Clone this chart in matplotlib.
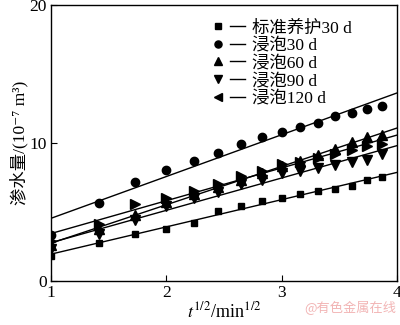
import numpy as np
import matplotlib
matplotlib.use("Agg")
import matplotlib.pyplot as plt
from matplotlib.lines import Line2D
from matplotlib.legend_handler import HandlerTuple

plt.rcParams['font.family'] = ['Liberation Serif', 'DejaVu Serif', 'Noto Sans CJK SC']
plt.rcParams['mathtext.fontset'] = 'stix'

# time t = 1..15 min, plotted as sqrt(t)
t_min = [1, 2, 3, 4, 5, 6, 7, 8, 9, 10, 11, 12, 13, 14, 15]
std30 = [1.8, 2.78, 3.41, 3.77, 4.18, 5.07, 5.43, 5.77, 6.04, 6.3, 6.52, 6.69, 6.91, 7.3, 7.51]
soak30 = [3.33, 5.67, 7.15, 8.04, 8.72, 9.27, 9.95, 10.41, 10.77, 11.18, 11.43, 11.98, 12.2, 12.46, 12.7]
soak60 = [2.6, 3.8, 4.8, 5.7, 6.3, 6.8, 7.35, 7.85, 8.3, 8.7, 9.1, 9.6, 10.1, 10.4, 10.55]
soak90 = [2.3, 3.4, 4.4, 5.4, 6.0, 6.45, 7.0, 7.35, 7.8, 8.0, 8.2, 8.4, 8.65, 8.8, 9.2]
soak120 = [2.9, 4.1, 5.55, 6.05, 6.55, 7.0, 7.6, 8.0, 8.45, 8.65, 8.9, 9.2, 9.5, 9.8, 9.9]

labels = ['标准养护30 d', '浸泡30 d', '浸泡60 d', '浸泡90 d', '浸泡120 d']
series = [std30, soak30, soak60, soak90, soak120]
markers = ['s', 'o', '^', 'v', '>']
legend_markers = ['s', 'o', '^', 'v', '<']
msizes = [5, 6, 6.5, 6.5, 6.5]

x = np.sqrt(np.array(t_min, dtype=float))

fig = plt.figure(figsize=(4.0, 3.25), dpi=100)
ax = fig.add_axes([0.1275, 0.1354, 0.865, 0.8492])

xfit = np.array([1.0, 4.0])
handles = []
for y, m, lm, ms in zip(series, markers, legend_markers, msizes):
    ax.plot(x, y, linestyle='none', marker=m, color='black', markersize=ms)
    k, b = np.polyfit(x, y, 1)
    ax.plot(xfit, k * xfit + b, color='black', linewidth=1.0)
    hm = Line2D([], [], linestyle='none', marker=lm, color='black', markersize=ms * 0.85)
    hl = Line2D([], [], color='black', linewidth=1.0)
    handles.append((hm, hl))

ax.set_xlim(1, 4)
ax.set_ylim(0, 20)
ax.set_xticks([1, 2, 3, 4])
ax.set_yticks([0, 10, 20])
ax.tick_params(direction='in', length=4, width=0.8, labelsize=12.5, pad=3)
for s in ax.spines.values():
    s.set_linewidth(1.0)

ax.set_xlabel(r'$t^{1/2}$/min$^{1/2}$', fontsize=13, labelpad=0)
ax.set_ylabel('渗水量/(10⁻⁷ m³)', fontsize=12.5, labelpad=1)

leg = ax.legend(handles, labels, handler_map={tuple: HandlerTuple(ndivide=None, pad=0.3)},
                loc='upper left', bbox_to_anchor=(0.44, 0.97), frameon=False,
                fontsize=12.5, handlelength=2.0, handletextpad=0.4, labelspacing=0.08,
                borderaxespad=0.0)

fig.text(0.99, 0.03, '@有色金属在线', ha='right', va='bottom', fontsize=9.5,
         color='#f2b5b5', family=['Noto Sans CJK SC'])

fig.savefig('out.png', dpi=100)
